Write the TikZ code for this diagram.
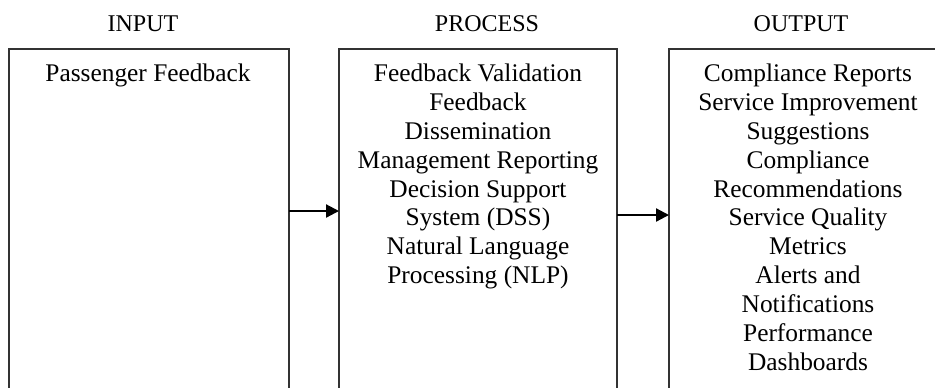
\documentclass[tikz,border=0pt]{standalone}
\usepackage{fontspec}
\setmainfont{Liberation Serif}
\usetikzlibrary{arrows.meta,calc}
\begin{document}
\begin{tikzpicture}[x=0.5pt,y=-0.5pt,
  box/.style={draw=black!80,line width=0.6pt,inner sep=0pt,outer sep=0pt,minimum width=140pt,minimum height=190.5pt},
  txt/.style={inner sep=0pt,anchor=north,align=center,font=\fontsize{12.7}{14.45}\selectfont},
  hdr/.style={inner sep=0pt,anchor=base,font=\fontsize{12}{14}\selectfont},
  arr/.style={line width=1.1pt,-{Triangle[length=6.5pt,width=6.5pt]}}]
\useasboundingbox (0,0) rectangle (935,387);
\clip (0,0) rectangle (935,387);
\node[box] (b1) at (149,239.5) {};
\node[box,minimum width=139pt] (b2) at (478,239.5) {};
\node[box,minimum width=139pt] (b3) at (808,239.5) {};
\node[hdr] (h1) at (143,31) {INPUT};
\node[hdr] (h2) at (487,31) {PROCESS};
\node[hdr] (h3) at (801,31) {OUTPUT};
\node[txt] (t1) at (148,61) {\rule{0pt}{10pt}Passenger Feedback};
\node[txt] (t2) at (478,61) {\rule{0pt}{10pt}Feedback Validation\\Feedback\\Dissemination\\Management Reporting\\Decision Support\\System (DSS)\\Natural Language\\Processing (NLP)};
\node[txt] (t3) at (808,61) {\rule{0pt}{10pt}Compliance Reports\\Service Improvement\\Suggestions\\Compliance\\Recommendations\\Service Quality\\Metrics\\Alerts and\\Notifications\\Performance\\Dashboards};
\draw[arr] ($(b1.east)+(0,-28.5)$) -- ($(b2.west)+(0,-28.5)$);
\draw[arr] ($(b2.east)+(0,-24.5)$) -- ($(b3.west)+(0,-24.5)$);
\end{tikzpicture}
\end{document}
